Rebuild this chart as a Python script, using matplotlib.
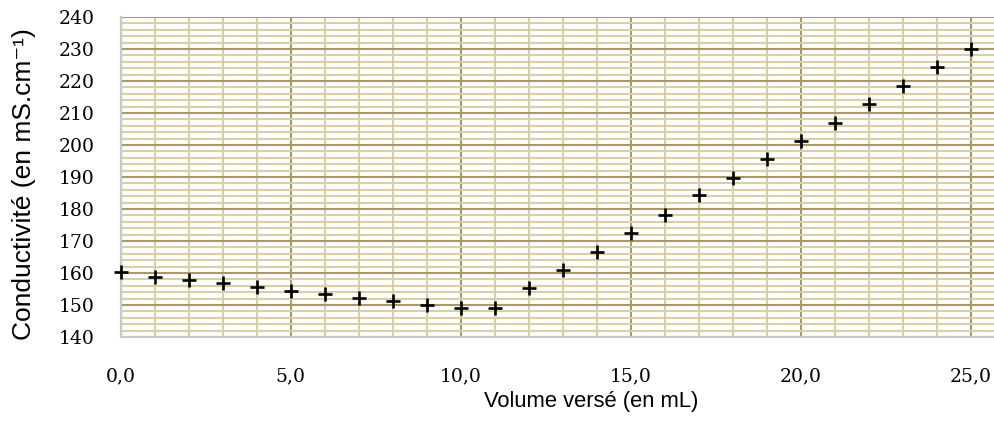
import matplotlib.pyplot as plt
from matplotlib.ticker import MultipleLocator, FuncFormatter

# volume versé (mL) et conductivité mesurée
volume = [0, 1, 2, 3, 4, 5, 6, 7, 8, 9, 10, 11, 12,
          13, 14, 15, 16, 17, 18, 19, 20, 21, 22, 23, 24, 25]
conductivite = [160.2, 158.9, 157.9, 156.8, 155.7, 154.5, 153.4, 152.2, 151.1, 150.1, 149.0, 149.2, 155.2,
                160.9, 166.7, 172.4, 178.2, 184.3, 189.8, 195.5, 201.2, 207.0, 212.8, 218.5, 224.3, 230.1]

fig = plt.figure(figsize=(9.95, 4.41), dpi=100)
ax = fig.add_axes([120.7 / 995, 1 - 337 / 441, 1 - 120.7 / 995, 320 / 441])

ax.set_xlim(0, (995 - 120.7) / 34)
ax.set_ylim(140, 240)

ax.xaxis.set_major_locator(MultipleLocator(5))
ax.xaxis.set_minor_locator(MultipleLocator(1))
ax.yaxis.set_major_locator(MultipleLocator(10))
ax.yaxis.set_minor_locator(MultipleLocator(2))

ax.grid(which="minor", color="#d8cea8", linewidth=1.5)
ax.grid(which="major", color="#a89a68", linewidth=1.5)
ax.set_axisbelow(True)

ax.plot(volume, conductivite, linestyle="none", marker="+", color="black",
        markersize=10, markeredgewidth=1.9, zorder=3, clip_on=False)

for s in ["top", "right"]:
    ax.spines[s].set_visible(False)
for s in ["left", "bottom"]:
    ax.spines[s].set_color("#c8c8c8")
    ax.spines[s].set_linewidth(1.6)

ax.xaxis.set_major_formatter(FuncFormatter(lambda v, p: f"{v:.1f}".replace(".", ",")))
ax.tick_params(which="both", length=0, labelsize=13.5)
ax.tick_params(axis="x", pad=22)
ax.tick_params(axis="y", pad=19)
for lab in ax.get_xticklabels() + ax.get_yticklabels():
    lab.set_fontfamily("DejaVu Serif")

fig.text(591 / 995, 1 - 401 / 441, "Volume versé (en mL)", ha="center", va="center",
         fontsize=15.8, family=["Liberation Sans", "DejaVu Sans"])
fig.text(24 / 995, 1 - 184 / 441, "Conductivité (en mS.cm⁻¹)", ha="center", va="center",
         rotation=90, fontsize=19, family=["Liberation Sans", "DejaVu Sans"])

fig.savefig("out.png", dpi=100)
